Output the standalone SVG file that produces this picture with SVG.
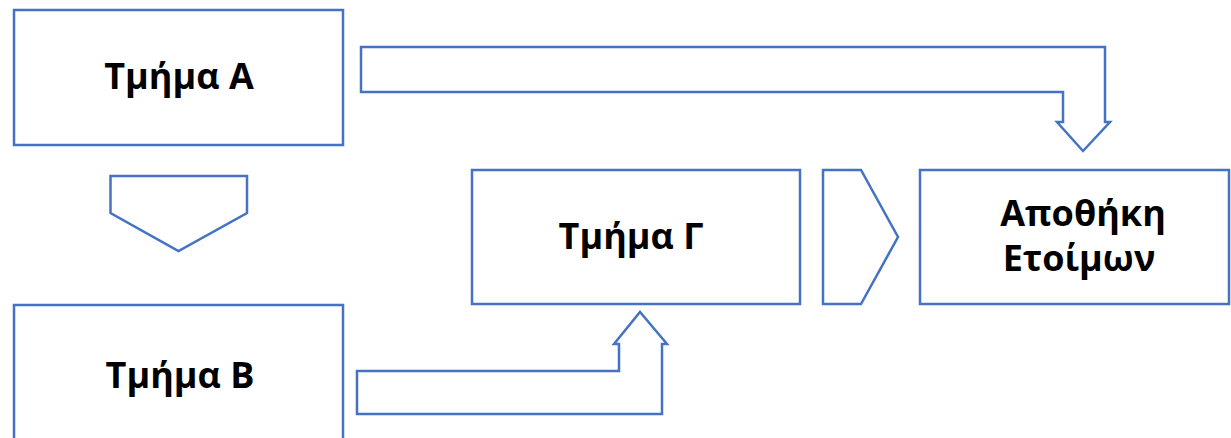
<svg xmlns="http://www.w3.org/2000/svg" width="1231" height="438" viewBox="0 0 1231 438">
<style>
.s{fill:#ffffff;stroke:#4472C4;stroke-width:2.5;stroke-linejoin:miter}
.t{font-family:"Open Sans","Liberation Sans",sans-serif;font-weight:bold;font-size:36px;fill:#000000;text-anchor:middle}
</style>
<rect width="1231" height="438" fill="#ffffff"/>
<g id="connectors">
<path class="s" d="M361,47 L1105,47 L1105,122 L1110,122 L1083,151 L1057,122 L1063,122 L1063,92 L361,92 Z"/>
<path class="s" d="M110.5,176 L247,176 L247,213 L178.5,251 L110.5,213 Z"/>
<path class="s" d="M357,414 L662,414 L662,344 L667,344 L640,312 L614,344 L619,344 L619,371 L357,371 Z"/>
<path class="s" d="M823,170 L861,170 L898,237 L861,304 L823,304 Z"/>
</g>
<g id="nodeA">
<rect class="s" x="14" y="10" width="329" height="135"/>
<text class="t" x="179" y="89">Τμήμα Α</text>
</g>
<g id="nodeB">
<rect class="s" x="14" y="305" width="329" height="140"/>
<text class="t" x="180" y="388">Τμήμα Β</text>
</g>
<g id="nodeG">
<rect class="s" x="472" y="170" width="328" height="134"/>
<text class="t" x="631" y="249">Τμήμα Γ</text>
</g>
<g id="nodeStore">
<rect class="s" x="920" y="170" width="309" height="134"/>
<text class="t" x="1083" y="226">Αποθήκη</text>
<text class="t" x="1079" y="271">Ετοίμων</text>
</g>
</svg>
